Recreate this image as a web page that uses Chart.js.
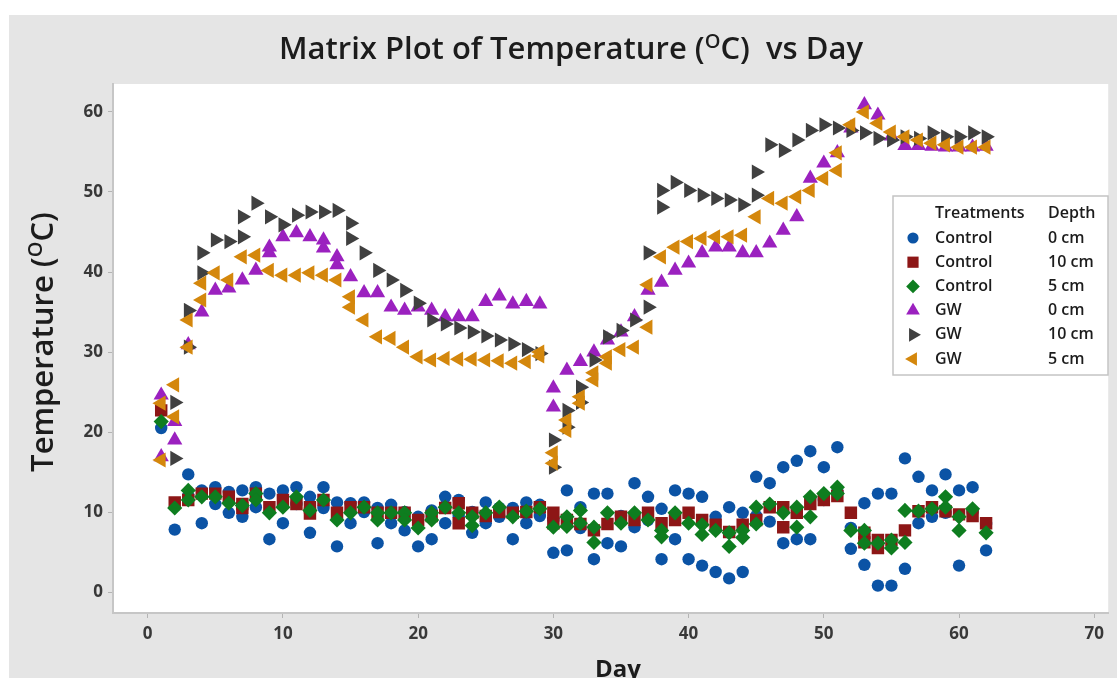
<!DOCTYPE html>
<html lang="en">
<head>
<meta charset="UTF-8">
<title>Matrix Plot of Temperature vs Day</title>
<script src="https://cdn.jsdelivr.net/npm/chart.js@4"></script>
<style>
  html, body { margin: 0; padding: 0; background: #fff; overflow: hidden; }
  .panel { position: absolute; left: 9px; top: 15px; width: 1108px; height: 663px; background: #e5e5e5; }
  canvas { display: block; }
</style>
</head>
<body>
<div class="panel"><canvas id="tempChart" width="1108" height="663"></canvas></div>
<script>
// day of measurement
const days = [
  1, 2, 3, 4, 5, 6, 7, 8, 9, 10,
  11, 12, 13, 14, 15, 16, 17, 18, 19, 20,
  21, 22, 23, 24, 25, 26, 27, 28, 29, 30,
  31, 32, 33, 34, 35, 36, 37, 38, 39, 40,
  41, 42, 43, 44, 45, 46, 47, 48, 49, 50,
  51, 52, 53, 54, 55, 56, 57, 58, 59, 60,
  61, 62
];

const yTicks = [0, 10, 20, 30, 40, 50, 60];
const xTicks = [0, 10, 20, 30, 40, 50, 60, 70];

// two readings per day (A / B), null where only one was taken
const control0A = [
  20.5, 7.8, 14.7, 12.7, 13.1, 12.5, 12.7, 13.1, 12.3, 12.7,
  13.1, 11.9, 13.1, 11.2, 11.1, 11.2, 10.5, 10.9, 10.0, 9.4,
  10.2, 11.9, 11.5, 10.0, 11.2, 10.5, 10.5, 11.2, 10.9, 9.0,
  12.7, 10.6, 12.3, 12.3, 9.5, 13.6, 11.9, 10.4, 12.7, 12.3,
  11.9, 9.4, 10.6, 9.9, 14.4, 13.6, 15.6, 16.4, 17.6, 15.6,
  18.1, 8.0, 11.1, 12.3, 12.3, 16.7, 14.4, 12.7, 14.7, 12.7,
  13.1, 8.5
];
const control0B = [
  null, null, 12.0, 8.6, 11.0, 9.9, 9.4, 10.6, 6.6, 8.6,
  11.0, 7.4, 10.5, 5.7, 8.6, 10.0, 6.1, 8.6, 7.7, 5.7,
  6.6, 8.6, 9.5, 7.4, 8.6, 9.4, 6.6, 8.6, 9.5, 4.9,
  5.2, 8.0, 4.1, 6.1, 5.7, 8.1, 9.0, 4.1, 6.6, 4.1,
  3.3, 2.5, 1.7, 2.5, 9.5, 8.8, 6.1, 6.6, 6.6, 11.5,
  12.5, 5.4, 3.4, 0.8, 0.8, 2.9, 8.6, 9.4, 9.9, 3.3,
  10.0, 5.2
];

const control10A = [
  22.7, 11.2, 11.5, 12.3, 12.3, 11.9, 11.0, 12.3, 10.6, 11.5,
  11.0, 10.6, 11.5, 9.9, 10.6, 10.6, 9.9, 9.9, 9.9, 9.0,
  9.5, 10.5, 11.1, 9.9, 9.5, 10.0, 9.9, 10.0, 10.6, 9.9,
  9.0, 8.5, 7.7, 8.5, 9.4, 9.0, 9.9, 8.6, 9.0, 9.9,
  9.0, 8.4, 7.5, 8.4, 9.0, 10.6, 10.6, 9.9, 11.0, 11.5,
  12.0, 9.9, 7.4, 6.5, 6.5, 7.7, 10.1, 10.6, 10.1, 9.7,
  9.5, 8.6
];
const control10B = [
  null, null, null, null, null, null, 10.5, null, null, null,
  null, 9.8, null, null, null, null, null, null, null, null,
  null, null, 8.6, null, null, null, null, null, null, 8.6,
  null, null, null, null, null, null, null, null, null, null,
  null, null, null, null, null, null, 8.1, null, null, null,
  null, null, 6.2, 5.5, null, null, null, null, null, null,
  null, null
];

const control5A = [
  21.3, 10.5, 12.7, 11.9, 11.9, 11.1, 10.8, 12.3, 9.9, 10.6,
  11.9, 10.2, 11.5, 9.0, 9.9, 10.6, 9.9, 9.9, 9.9, 8.0,
  9.0, 10.6, 9.9, 9.4, 9.9, 10.6, 9.4, 10.1, 10.4, 8.1,
  9.4, 10.2, 8.1, 9.9, 8.6, 9.9, 9.0, 7.7, 9.9, 8.6,
  8.4, 7.7, 7.4, 7.7, 10.6, 11.0, 9.9, 10.6, 11.9, 12.3,
  13.1, 7.7, 7.7, 6.1, 6.5, 10.2, 10.1, 10.4, 11.9, 9.4,
  10.4, 7.4
];
const control5B = [
  null, null, 11.5, null, null, null, null, 11.5, null, null,
  null, null, null, null, null, null, 9.0, null, 9.0, null,
  9.9, null, null, 8.3, null, null, null, null, null, null,
  8.2, 8.6, 6.2, null, null, null, null, 6.9, null, null,
  7.2, null, 5.7, 6.8, 8.5, null, null, 8.1, 9.4, null,
  12.3, null, 6.1, null, 5.5, 6.2, null, null, 10.6, 7.7,
  null, null
];

const gw0A = [
  24.6, 21.3, 30.9, 35.0, 37.7, 38.0, 39.0, 40.2, 43.1, 44.4,
  44.9, 44.4, 44.0, 41.9, 39.4, 37.4, 37.4, 35.6, 35.2, 35.6,
  35.2, 34.4, 34.4, 34.4, 36.3, 37.0, 36.0, 36.3, 36.0, 25.5,
  27.7, 28.8, 30.0, 31.5, 32.5, 34.4, 37.7, 38.7, 40.2, 41.1,
  42.4, 43.1, 43.1, 42.4, 42.4, 43.6, 45.2, 46.9, 51.7, 53.6,
  54.9, 58.0, 60.9, 59.6, 57.0, 55.8, 55.8, 55.7, 55.6, 55.6,
  55.6, 55.7
];
const gw0B = [
  16.9, 19.0, null, null, null, null, null, null, 42.4, null,
  null, null, 43.0, 40.9, null, null, null, null, null, null,
  null, null, null, null, null, null, null, null, null, 23.1,
  null, null, null, null, null, null, null, null, null, null,
  null, null, null, null, null, null, null, null, null, null,
  null, null, null, null, null, null, null, null, null, null,
  null, null
];

const gw10A = [
  null, 23.7, 35.2, 39.9, 44.0, 43.8, 44.4, 48.6, 46.9, 45.9,
  47.1, 47.5, 47.5, 47.7, 46.1, 42.4, 40.2, 39.0, 37.7, 36.1,
  34.0, 33.5, 33.0, 32.5, 32.0, 31.5, 31.0, 30.3, 29.8, 19.0,
  22.7, 25.6, 29.0, 31.9, 32.7, 34.0, 35.6, 48.1, 51.2, 50.2,
  49.6, 49.2, 49.0, 48.4, 49.6, 55.9, 55.2, 56.5, 57.7, 58.4,
  58.0, 57.7, 57.4, 56.7, 56.5, 56.9, 56.7, 57.4, 56.9, 56.9,
  57.4, 56.9
];
const gw10B = [
  null, 16.7, 30.6, 42.4, null, null, 46.9, null, null, null,
  null, null, null, null, 44.2, null, null, null, null, null,
  null, null, null, null, null, null, null, null, null, 15.6,
  20.6, 23.7, null, null, null, null, 42.4, 50.2, null, null,
  null, null, null, null, 52.5, null, null, null, null, null,
  null, null, null, null, null, null, null, null, null, null,
  null, null
];

const gw5A = [
  23.6, 25.9, 34.0, 36.5, 39.9, 39.0, 41.9, 42.1, 40.2, 39.6,
  39.6, 39.9, 39.6, 39.0, 36.9, 34.0, 31.9, 31.7, 30.6, 29.4,
  29.0, 29.2, 29.1, 29.1, 29.0, 28.9, 28.6, 28.8, 29.5, 17.4,
  21.5, 24.4, 27.4, 29.4, 30.3, 30.6, 33.1, 41.9, 43.1, 43.8,
  44.2, 44.4, 44.4, 44.6, 46.9, 49.2, 48.6, 49.4, 50.2, 51.7,
  52.7, 58.4, 60.0, 58.6, 57.5, 56.9, 56.5, 56.1, 55.9, 55.6,
  55.6, 55.6
];
const gw5B = [
  16.5, 21.9, 30.6, 38.6, null, null, null, null, null, null,
  null, null, null, null, 35.6, null, null, null, null, null,
  null, null, null, null, null, null, null, null, 30.0, 16.1,
  20.2, 23.6, 26.5, 28.6, null, null, 38.4, null, null, null,
  null, null, null, null, null, null, null, null, null, null,
  54.9, null, null, null, null, null, null, null, null, null,
  null, null
];

const treatments = ['Control', 'Control', 'Control', 'GW', 'GW', 'GW'];
const depths = ['0 cm', '10 cm', '5 cm', '0 cm', '10 cm', '5 cm'];

const FONT = "'Open Sans', 'Noto Sans', sans-serif";

function toPoints(a, b) {
  const pts = [];
  days.forEach((d, i) => {
    if (a[i] != null) pts.push({ x: d, y: a[i] });
    if (b[i] != null) pts.push({ x: d, y: b[i] });
  });
  return pts;
}

const markers = [
  { color: '#0b53a5', style: 'circle', rot: 0, r: 6.2 },
  { color: '#8d1616', style: 'rect', rot: 0, r: 8.8 },
  { color: '#0e7d1f', style: 'rectRot', rot: 0, r: 7.6 },
  { color: '#9b21bf', style: 'triangle', rot: 0, r: 8.8 },
  { color: '#404040', style: 'triangle', rot: 90, r: 8.8 },
  { color: '#d4870c', style: 'triangle', rot: 270, r: 8.8 }
];
const seriesData = [
  toPoints(control0A, control0B),
  toPoints(control10A, control10B),
  toPoints(control5A, control5B),
  toPoints(gw0A, gw0B),
  toPoints(gw10A, gw10B),
  toPoints(gw5A, gw5B)
];

const datasets = seriesData.map((pts, i) => ({
  label: treatments[i] + ' ' + depths[i],
  data: pts,
  order: 6 - i,
  pointStyle: markers[i].style,
  pointRotation: markers[i].rot,
  pointRadius: markers[i].r,
  pointHoverRadius: markers[i].r,
  pointBackgroundColor: markers[i].color,
  pointBorderColor: markers[i].color,
  pointBorderWidth: 0
}));

// draws text runs with a raised superscript part
function richText(ctx, parts, x, y) {
  let total = 0;
  parts.forEach(p => {
    ctx.font = `${p.weight || 600} ${p.size}px ${FONT}`;
    p.w = ctx.measureText(p.text).width;
    total += p.w;
  });
  let cx = x - total / 2;
  ctx.textAlign = 'left';
  ctx.textBaseline = 'alphabetic';
  parts.forEach(p => {
    ctx.font = `${p.weight || 600} ${p.size}px ${FONT}`;
    ctx.fillText(p.text, cx, y - (p.rise || 0));
    cx += p.w;
  });
}

const decorPlugin = {
  id: 'decor',
  beforeDraw(chart) {
    const { ctx, chartArea: a } = chart;
    ctx.save();
    ctx.fillStyle = '#ffffff';
    ctx.fillRect(a.left, a.top, a.right - a.left, a.bottom - a.top);
    ctx.restore();
  },
  afterDraw(chart) {
    const ctx = chart.ctx;
    ctx.save();
    ctx.fillStyle = '#1c1c1c';

    // main title
    richText(ctx, [
      { text: 'Matrix Plot of Temperature (', size: 31 },
      { text: 'O', size: 20, rise: 11 },
      { text: 'C)  vs Day', size: 31 }
    ], 562, 44);

    // y axis title
    ctx.save();
    ctx.translate(44, 327);
    ctx.rotate(-Math.PI / 2);
    richText(ctx, [
      { text: 'Temperature (', size: 31 },
      { text: 'O', size: 20, rise: 11 },
      { text: 'C)', size: 31 }
    ], 0, 0);
    ctx.restore();

    // x axis title
    richText(ctx, [{ text: 'Day', size: 24, weight: 700 }], 609, 662);

    // legend box
    const lx = 884, ly = 181, lw = 215, lh = 179;
    ctx.fillStyle = '#ffffff';
    ctx.fillRect(lx, ly, lw, lh);
    ctx.strokeStyle = '#c4c4c4';
    ctx.lineWidth = 1.5;
    ctx.strokeRect(lx, ly, lw, lh);

    ctx.fillStyle = '#1c1c1c';
    ctx.font = `600 16px ${FONT}`;
    ctx.textAlign = 'left';
    ctx.textBaseline = 'middle';
    ctx.fillText('Treatments', 926, 198);
    ctx.fillText('Depth', 1039, 198);
    treatments.forEach((t, i) => {
      const y = 223 + i * 24.2;
      const m = markers[i];
      ctx.fillStyle = m.color;
      Chart.helpers.drawPoint(ctx, {
        pointStyle: m.style, rotation: m.rot, radius: m.r * 0.9, borderWidth: 0
      }, 904, y);
      ctx.fillStyle = '#1c1c1c';
      ctx.font = `600 16px ${FONT}`;
      ctx.fillText(t, 926, y);
      ctx.fillText(depths[i], 1039, y);
    });
    ctx.restore();
  }
};

const axisTickFont = { family: FONT, size: 17, weight: '700' };

new Chart(document.getElementById('tempChart'), {
  type: 'scatter',
  data: { datasets },
  options: {
    responsive: false,
    animation: false,
    layout: { padding: { top: 69, left: 0, right: 0, bottom: 0 } },
    plugins: {
      legend: { display: false },
      tooltip: { enabled: false },
      title: { display: false }
    },
    scales: {
      x: {
        type: 'linear',
        min: -2.565,
        max: 71.03,
        afterFit(scale) { scale.height = 65; },
        afterBuildTicks(scale) { scale.ticks = xTicks.map(v => ({ value: v })); },
        ticks: { font: axisTickFont, color: '#383838', padding: 6, maxRotation: 0 },
        grid: { drawOnChartArea: false, drawTicks: true, tickLength: 5, tickColor: '#b4b4b4' },
        border: { display: true, color: '#c6c6c6', width: 2 }
      },
      y: {
        type: 'linear',
        min: -2.625,
        max: 63.5,
        afterFit(scale) { scale.width = 104; },
        afterBuildTicks(scale) { scale.ticks = yTicks.map(v => ({ value: v })); },
        ticks: { font: axisTickFont, color: '#383838', padding: 5 },
        grid: { drawOnChartArea: false, drawTicks: true, tickLength: 5, tickColor: '#b4b4b4' },
        border: { display: true, color: '#c6c6c6', width: 2 }
      }
    }
  },
  plugins: [decorPlugin]
});
</script>
</body>
</html>
